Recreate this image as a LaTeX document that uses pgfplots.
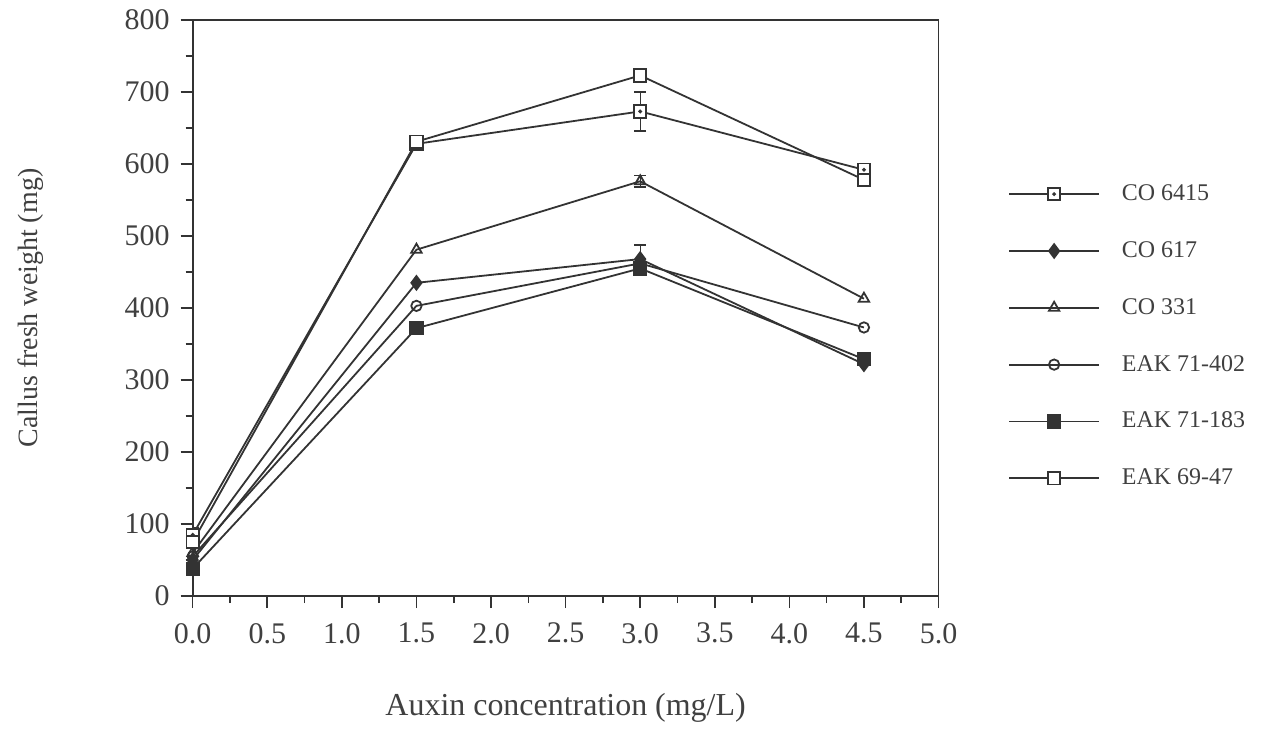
\documentclass[border=0pt]{standalone}
\usepackage{fontspec}
\setmainfont{Liberation Serif}
\usepackage{pgfplots}
\pgfplotsset{compat=1.18}

\definecolor{ink}{HTML}{333333}
\definecolor{txt}{HTML}{404040}

% open square with a dot in the middle (CO 6415)
\pgfdeclareplotmark{dotsquare}{%
  \pgfpathrectangle{\pgfqpoint{-\pgfplotmarksize}{-\pgfplotmarksize}}{\pgfqpoint{2\pgfplotmarksize}{2\pgfplotmarksize}}%
  \pgfusepathqfillstroke
  \pgfpathcircle{\pgfpointorigin}{0.45pt}%
  \pgfusepathqstroke}

\begin{document}
\begin{tikzpicture}
\begin{axis}[
    scale only axis,
    width=373.5pt, height=288.5pt,
    at={(0,0)}, anchor=south west,
    xmin=0, xmax=5,
    ymin=0, ymax=800,
    xtick={0,0.5,...,5},
    minor x tick num=1,
    ytick={0,100,...,800},
    minor y tick num=1,
    xtick pos=bottom, ytick pos=left,
    tick align=outside,
    major tick length=6pt, minor tick length=3.5pt,
    tick style={ink, line width=0.8pt},
    axis line style={ink, line width=0.9pt},
    xticklabel style={/pgf/number format/fixed, /pgf/number format/fixed zerofill, /pgf/number format/precision=1},
    /pgf/number format/assume math mode=true,
    ticklabel style={font=\fontsize{15}{18}\selectfont, text=txt},
    xticklabel style={yshift=-4pt},
    yticklabel style={xshift=-2pt},
    xlabel={Auxin concentration (mg/L)},
    ylabel={Callus fresh weight (mg)},
    xlabel style={font=\fontsize{16}{18}\selectfont, text=txt, yshift=-18pt},
    ylabel style={font=\fontsize{14}{16}\selectfont, text=txt, yshift=34pt},
    every axis plot/.append style={ink, line width=0.9pt, mark options={solid, line width=0.8pt}},
    legend style={draw=none, fill=none, at={(1.085,0.451)}, anchor=west,
        font=\fontsize{12}{14}\selectfont, text=txt, row sep=15pt,
        nodes={inner xsep=11pt}},
    legend cell align=left,
    legend image code/.code={%
        \draw[mark repeat=2, mark phase=2] plot coordinates {(0pt,0pt) (22.5pt,0pt) (45pt,0pt)};},
]

\addplot[mark=dotsquare, mark size=3.1pt, mark options={fill=white}]
    coordinates {(0,85) (1.5,628) (3.0,673) (4.5,592)};
\addlegendentry{CO 6415}

\addplot[mark=diamond*, mark size=3.4pt, mark options={fill=ink}]
    coordinates {(0,50) (1.5,435) (3.0,468) (4.5,322)};
\addlegendentry{CO 617}

\addplot[mark=triangle, mark size=3.0pt, mark options={fill=white}]
    coordinates {(0,60) (1.5,481) (3.0,576) (4.5,413)};
\addlegendentry{CO 331}

\addplot[mark=o, mark size=2.6pt, mark options={fill=white}]
    coordinates {(0,55) (1.5,403) (3.0,462) (4.5,373)};
\addlegendentry{EAK 71-402}

\addplot[mark=square*, mark size=3.1pt, mark options={fill=ink}]
    coordinates {(0,38) (1.5,372) (3.0,455) (4.5,329)};
\addlegendentry{EAK 71-183}

\addplot[mark=square*, mark size=3.1pt, mark options={fill=white}]
    coordinates {(0,75) (1.5,631) (3.0,723) (4.5,578)};
\addlegendentry{EAK 69-47}

% error bars
\addplot[forget plot, draw=none, mark=none, ink, line width=0.9pt,
    error bars/.cd, y dir=both, y explicit,
    error mark options={rotate=90, mark size=3pt, line width=0.9pt, ink}]
    coordinates {(3.0,673) +- (0,27) (3.0,576) +- (0,8) (3.0,468) +- (0,20) (0,85) +- (0,9)};

\end{axis}
\path[use as bounding box] (-96.5pt,-65.5pt) rectangle (540pt,298.5pt);
\end{tikzpicture}
\end{document}
